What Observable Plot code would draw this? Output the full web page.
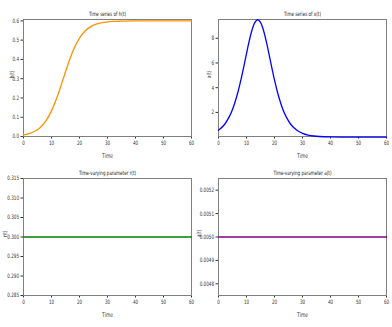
<!DOCTYPE html>
<html>
<head>
<meta charset="utf-8">
<script src="https://cdn.jsdelivr.net/npm/d3@7"></script>
<script src="https://cdn.jsdelivr.net/npm/@observablehq/plot@0.6"></script>
<style>
  html, body { margin: 0; padding: 0; background: #fff; }
  #chart { position: relative; width: 392px; height: 327px; background: #fff; overflow: hidden; }
  .panel { position: absolute; }
</style>
</head>
<body>
<div id="chart"></div>
<script>
// ---- data ----
const timeTicks = [0, 10, 20, 30, 40, 50, 60];

const tH = [0, 2, 4, 6, 8, 10, 12, 14, 16, 18, 20, 22, 24, 26, 28, 30, 32, 34, 36, 40, 45, 50, 55, 60];
const hValues = [0.008, 0.015, 0.027, 0.047, 0.081, 0.133, 0.205, 0.291, 0.379, 0.455, 0.510, 0.547, 0.570, 0.583, 0.591, 0.595, 0.597, 0.598, 0.599, 0.600, 0.600, 0.600, 0.600, 0.600];

const tX = [0, 2, 4, 5, 6, 7, 8, 9, 10, 11, 12, 13, 14, 15, 16, 17, 18, 19, 20, 21, 22, 23, 24, 26, 28, 30, 32, 34, 36, 40, 45, 50, 55, 60];
const xValues = [0.55, 0.98, 1.72, 2.24, 2.90, 3.69, 4.63, 5.67, 6.76, 7.81, 8.69, 9.29, 9.50, 9.29, 8.69, 7.81, 6.76, 5.67, 4.63, 3.69, 2.90, 2.24, 1.72, 0.98, 0.55, 0.31, 0.17, 0.09, 0.05, 0.016, 0.004, 0.001, 0.0003, 0.0001];

const tConst = [0, 60];
const rValues = [0.3, 0.3];
const aValues = [0.005, 0.005];

const hTicks = [0, 0.1, 0.2, 0.3, 0.4, 0.5, 0.6];
const xTicks = [2, 4, 6, 8];
const rTicks = [0.285, 0.290, 0.295, 0.300, 0.305, 0.310, 0.315];
const aTicks = [0.0048, 0.0049, 0.0050, 0.0051, 0.0052];

const titles = ["Time series of h(t)", "Time series of x(t)", "Time-varying parameter r(t)", "Time-varying parameter a(t)"];
const yLabels = ["h(t)", "x(t)", "r(t)", "a(t)"];
const xLabel = "Time";

// ---- drawing ----
const chart = document.getElementById("chart");
const SCALE_X = 0.68;

function panel({left, top, height, mt, mb, t, v, color, domain, ticks, fmt, title, ylab, ylabDx}) {
  const data = t.map((d, i) => ({t: d, v: v[i]}));
  const p = Plot.plot({
    width: 196,
    height,
    marginLeft: 22,
    marginRight: 6,
    marginTop: mt,
    marginBottom: mb,
    style: {fontFamily: "DejaVu Sans", fontSize: "6px", background: "transparent", color: "#333", overflow: "visible"},
    x: {domain: [0, 60], ticks: timeTicks, tickSize: 2.5, tickPadding: 1.5, tickFormat: d3.format("d"), label: null},
    y: {domain, ticks, tickSize: 2.5, tickPadding: 2, tickFormat: fmt, label: null},
    marks: [
      Plot.frame({stroke: "#808080", strokeWidth: 1}),
      Plot.line(data, {x: "t", y: "v", stroke: color, strokeWidth: 1.3, curve: "catmull-rom"}),
      Plot.text([title], {text: d => d, frameAnchor: "top", lineAnchor: "bottom", dy: -4, fontSize: 6, fill: "#222"}),
      Plot.text([xLabel], {text: d => d, frameAnchor: "bottom", lineAnchor: "middle", dy: 19, fontSize: 6.5, fill: "#333"}),
      Plot.text([ylab], {text: d => d, frameAnchor: "left", rotate: -90, lineAnchor: "middle", dx: ylabDx, fontSize: 6, fill: "#222"})
    ]
  });
  const div = document.createElement("div");
  div.className = "panel";
  div.style.left = left + "px";
  div.style.top = top + "px";
  div.appendChild(p);
  chart.appendChild(div);
  // condensed glyphs, scaled about each label's own anchor
  p.querySelectorAll("text").forEach(el => {
    const x = +el.getAttribute("x") || 0, y = +el.getAttribute("y") || 0;
    const tr = el.getAttribute("transform") || "";
    el.setAttribute("transform", `${tr} translate(${x},${y}) scale(${SCALE_X},1) translate(${-x},${-y})`);
  });
}

panel({left: 1, top: 0, height: 160, mt: 19, mb: 24, t: tH, v: hValues, color: "#ff9200",
  domain: [0, 0.607], ticks: hTicks, fmt: d3.format(".1f"), title: titles[0], ylab: yLabels[0], ylabDx: -11.5});
panel({left: 196, top: 0, height: 160, mt: 19, mb: 24, t: tX, v: xValues, color: "#0000ff",
  domain: [0.05, 9.52], ticks: xTicks, fmt: d3.format("d"), title: titles[1], ylab: yLabels[1], ylabDx: -9});
panel({left: 1, top: 160, height: 167, mt: 18, mb: 32, t: tConst, v: rValues, color: "#008000",
  domain: [0.285, 0.315], ticks: rTicks, fmt: d3.format(".3f"), title: titles[2], ylab: yLabels[2], ylabDx: -18.5});
panel({left: 196, top: 160, height: 167, mt: 18, mb: 32, t: tConst, v: aValues, color: "#800080",
  domain: [0.00475, 0.00525], ticks: aTicks, fmt: d3.format(".4f"), title: titles[3], ylab: yLabels[3], ylabDx: -19.5});
</script>
</body>
</html>
